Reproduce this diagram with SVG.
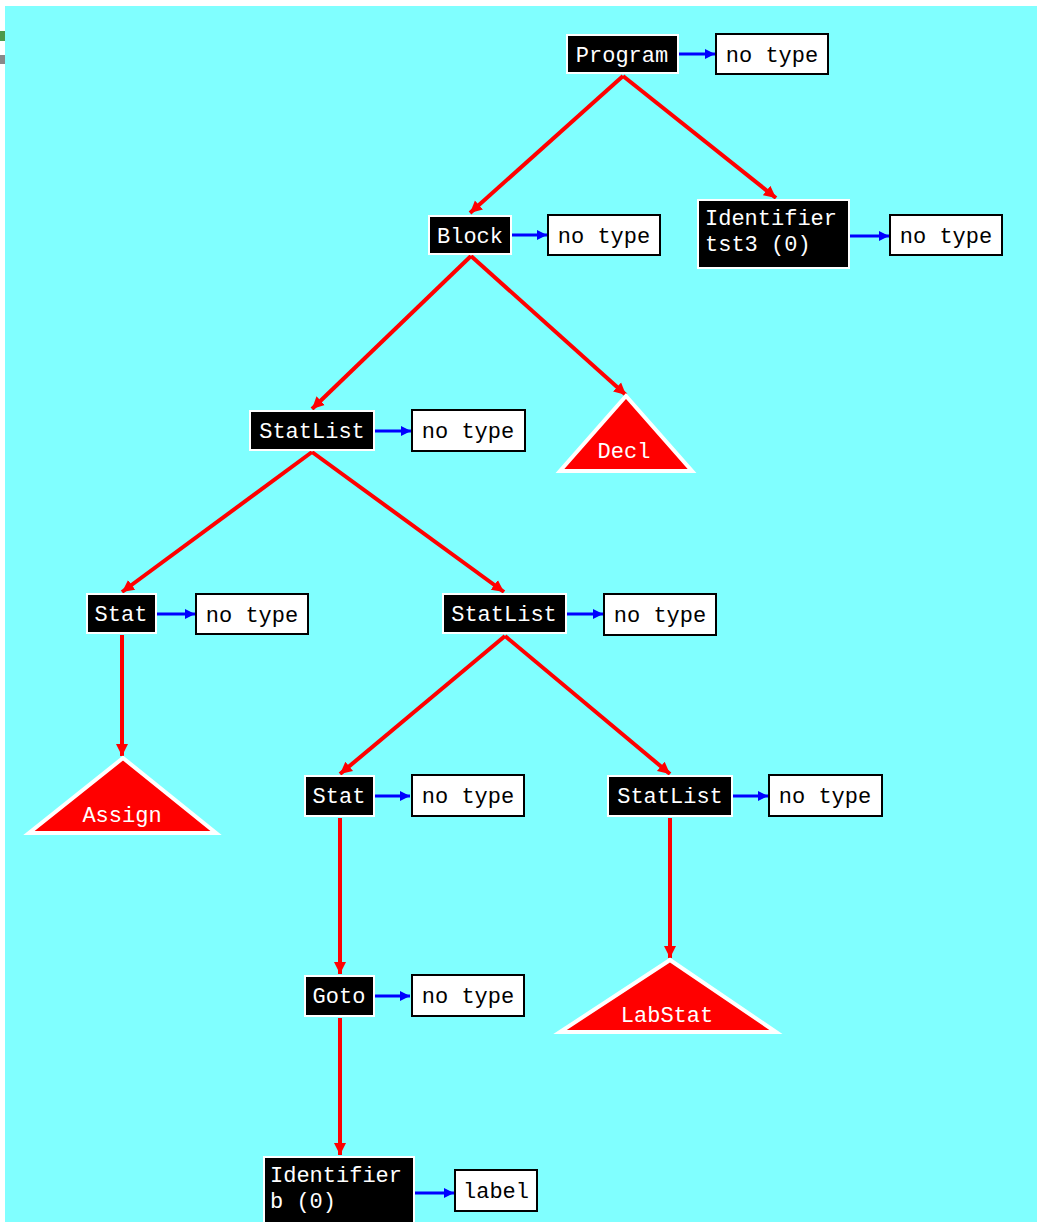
<svg xmlns="http://www.w3.org/2000/svg" width="1037" height="1222" viewBox="0 0 1037 1222">
<style>
.nb{fill:#000;stroke:#fff;stroke-width:2}
.wb{fill:#fff;stroke:#000;stroke-width:2}
.tw{fill:#fff;font-family:"Liberation Mono","DejaVu Sans Mono",monospace;font-size:22px}
.tb{fill:#000;font-family:"Liberation Mono","DejaVu Sans Mono",monospace;font-size:22px}
.tri{fill:#f00;stroke:#fff;stroke-width:4;stroke-linejoin:miter}
.re{stroke:#f00;stroke-width:4;fill:none;marker-end:url(#ra)}
.be{stroke:#00f;stroke-width:3;fill:none;marker-end:url(#ba)}
</style>
<defs>
<marker id="ra" markerUnits="userSpaceOnUse" markerWidth="14" markerHeight="14" refX="12" refY="7" orient="auto" viewBox="0 0 14 14">
<path d="M0,1 L12,7 L0,13 z" fill="#f00"/>
</marker>
<marker id="ba" markerUnits="userSpaceOnUse" markerWidth="10" markerHeight="12" refX="10" refY="6" orient="auto" viewBox="0 0 10 12">
<path d="M0,1 L10,6 L0,11 z" fill="#00f"/>
</marker>
</defs>
<rect x="0" y="0" width="1037" height="1222" fill="#fff"/>
<rect x="5" y="6" width="1032" height="1216" fill="#80ffff"/>
<rect x="0" y="31" width="5" height="10" fill="#4c9a4c"/>
<rect x="0" y="55" width="5" height="9" fill="#888"/>

<g id="connectors">
<line class="re" x1="623" y1="76" x2="470" y2="213"/>
<line class="re" x1="623" y1="76" x2="776" y2="198"/>
<line class="re" x1="471" y1="256" x2="312" y2="409"/>
<line class="re" x1="471" y1="256" x2="626" y2="395"/>
<line class="re" x1="312" y1="452" x2="122" y2="592"/>
<line class="re" x1="312" y1="452" x2="504" y2="592"/>
<line class="re" x1="505" y1="636" x2="340" y2="774"/>
<line class="re" x1="505" y1="636" x2="670" y2="774"/>
<line class="re" x1="122" y1="635" x2="122" y2="756"/>
<line class="re" x1="340" y1="818" x2="340" y2="974"/>
<line class="re" x1="340" y1="1018" x2="340" y2="1155"/>
<line class="re" x1="670" y1="818" x2="670" y2="958"/>
<line class="be" x1="679" y1="54" x2="715" y2="54"/>
<line class="be" x1="512" y1="235" x2="547" y2="235"/>
<line class="be" x1="850" y1="236" x2="889" y2="236"/>
<line class="be" x1="375" y1="431" x2="411" y2="431"/>
<line class="be" x1="157" y1="614" x2="195" y2="614"/>
<line class="be" x1="567" y1="614" x2="603" y2="614"/>
<line class="be" x1="375" y1="796" x2="410" y2="796"/>
<line class="be" x1="733" y1="796" x2="768" y2="796"/>
<line class="be" x1="375" y1="996" x2="410" y2="996"/>
<line class="be" x1="415" y1="1193" x2="454" y2="1193"/>
</g>

<g id="program"><rect class="nb" x="567" y="35" width="111" height="38"/><text class="tw" x="622" y="62" text-anchor="middle">Program</text></g>
<g id="program-type"><rect class="wb" x="716" y="34" width="112" height="40"/><text class="tb" x="772" y="62" text-anchor="middle">no type</text></g>

<g id="block"><rect class="nb" x="429" y="216" width="82" height="38"/><text class="tw" x="470" y="243" text-anchor="middle">Block</text></g>
<g id="block-type"><rect class="wb" x="548" y="215" width="112" height="40"/><text class="tb" x="604" y="243" text-anchor="middle">no type</text></g>

<g id="ident-tst3"><rect class="nb" x="698" y="200" width="151" height="68"/><text class="tw" x="705" y="225">Identifier</text><text class="tw" x="705" y="251">tst3 (0)</text></g>
<g id="ident-tst3-type"><rect class="wb" x="890" y="215" width="112" height="40"/><text class="tb" x="946" y="243" text-anchor="middle">no type</text></g>

<g id="statlist1"><rect class="nb" x="250" y="411" width="124" height="39"/><text class="tw" x="312" y="438" text-anchor="middle">StatList</text></g>
<g id="statlist1-type"><rect class="wb" x="412" y="410" width="113" height="41"/><text class="tb" x="468" y="438" text-anchor="middle">no type</text></g>

<g id="decl"><polygon class="tri" points="626,396 692,471 560,471"/><text class="tw" x="624" y="458" text-anchor="middle">Decl</text></g>

<g id="stat1"><rect class="nb" x="87" y="594" width="69" height="39"/><text class="tw" x="121" y="621" text-anchor="middle">Stat</text></g>
<g id="stat1-type"><rect class="wb" x="196" y="594" width="112" height="40"/><text class="tb" x="252" y="622" text-anchor="middle">no type</text></g>

<g id="assign"><polygon class="tri" points="123,758 216,833 29,833"/><text class="tw" x="122" y="822" text-anchor="middle">Assign</text></g>

<g id="statlist2"><rect class="nb" x="443" y="594" width="123" height="39"/><text class="tw" x="504" y="621" text-anchor="middle">StatList</text></g>
<g id="statlist2-type"><rect class="wb" x="604" y="594" width="112" height="41"/><text class="tb" x="660" y="622" text-anchor="middle">no type</text></g>

<g id="stat2"><rect class="nb" x="305" y="776" width="69" height="40"/><text class="tw" x="339" y="803" text-anchor="middle">Stat</text></g>
<g id="stat2-type"><rect class="wb" x="412" y="775" width="112" height="41"/><text class="tb" x="468" y="803" text-anchor="middle">no type</text></g>

<g id="statlist3"><rect class="nb" x="608" y="776" width="124" height="40"/><text class="tw" x="670" y="803" text-anchor="middle">StatList</text></g>
<g id="statlist3-type"><rect class="wb" x="769" y="775" width="113" height="41"/><text class="tb" x="825" y="803" text-anchor="middle">no type</text></g>

<g id="goto"><rect class="nb" x="305" y="976" width="69" height="40"/><text class="tw" x="339" y="1003" text-anchor="middle">Goto</text></g>
<g id="goto-type"><rect class="wb" x="412" y="975" width="112" height="41"/><text class="tb" x="468" y="1003" text-anchor="middle">no type</text></g>

<g id="labstat"><polygon class="tri" points="670,960 776,1032 560,1032"/><text class="tw" x="667" y="1022" text-anchor="middle">LabStat</text></g>

<g id="ident-b"><rect class="nb" x="264" y="1157" width="150" height="70"/><text class="tw" x="270" y="1182">Identifier</text><text class="tw" x="270" y="1208">b (0)</text></g>
<g id="ident-b-type"><rect class="wb" x="455" y="1170" width="82" height="41"/><text class="tb" x="496" y="1198" text-anchor="middle">label</text></g>
</svg>
